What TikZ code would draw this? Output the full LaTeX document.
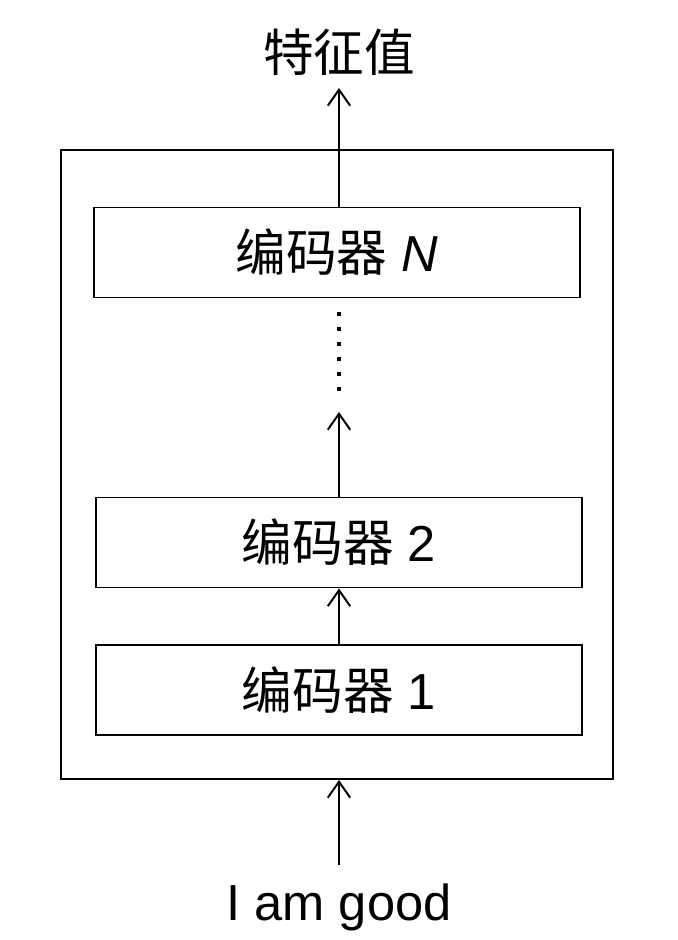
\documentclass[tikz,border=0pt]{standalone}
\usepackage{fontspec}
\setmainfont{Liberation Sans}
\newfontfamily\cjk{Noto Sans CJK SC}
\usetikzlibrary{arrows.meta}
\begin{document}
\begin{tikzpicture}[
        line width=1.4pt,
        every node/.style={font=\fontsize{36}{40}\selectfont},
        encbox/.style={draw, minimum width=12.15cm, minimum height=2.25cm, inner sep=0pt},
        up/.style={-{Straight Barb[length=4mm,width=5.6mm,line width=1.4pt]}},
        dotline/.style={line width=3pt, dash pattern=on 3pt off 7.7pt}]
        \useasboundingbox (0,0) rectangle (16.95,23.5);
        \node[draw, minimum width=13.8cm, minimum height=15.725cm, inner sep=0pt] (stack) at (8.425,11.8875) {};
        \node[encbox] (enc1) at (8.475,6.25) {{\cjk 编码器} 1};
        \node[encbox] (enc2) at (8.475,9.9375) {{\cjk 编码器} 2};
        \node[encbox] (encN) at (8.42,17.1875) {{\cjk 编码器} \textit{N}};
        \node[anchor=base] (input) at (8.475,0.5) {I am good};
        \node (feat) at (8.475,22.2) {\cjk 特征值};
        \coordinate (inp) at (8.475,1.875);
        \coordinate (out) at (8.475,21.3);
        \coordinate (gap) at (8.475,13.2);
        \coordinate (dtop) at (8.475,15.7);
        \coordinate (dbot) at (8.475,13.7);
        \draw[up] (inp) -- (inp |- stack.south);
        \draw[up] (enc1.north) -- (enc2.south);
        \draw[up] (enc2.north) -- (gap);
        \draw[dotline] (dtop) -- (dbot);
        \draw[up] (out |- encN.north) -- (out);
\end{tikzpicture}
\end{document}
